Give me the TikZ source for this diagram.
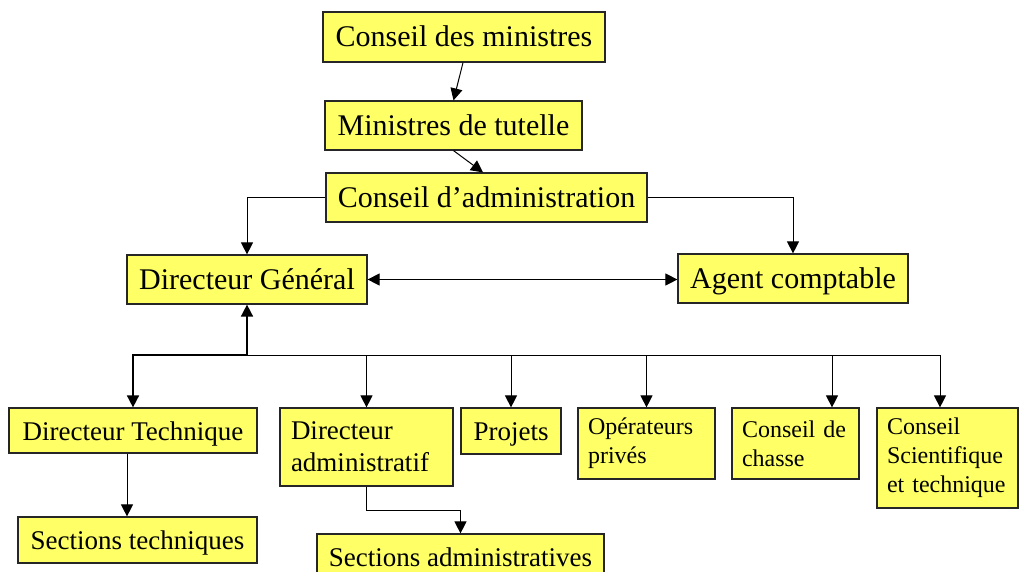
\documentclass[tikz,border=0pt]{standalone}
\usepackage{fontspec}
\setmainfont{Liberation Serif}
\usetikzlibrary{arrows.meta,calc}
\definecolor{boxyellow}{RGB}{255,255,102}
\begin{document}
\begin{tikzpicture}[x=1pt,y=-1pt,
  box/.style={draw=black!85, line width=1.2pt, fill=boxyellow, inner sep=0pt, anchor=center},
  big/.style={box, text height=24.6pt, text depth=4.8pt, font=\fontsize{30}{36}\selectfont},
  mid/.style={box, text height=23pt, text depth=3.5pt, font=\fontsize{27}{32}\selectfont},
  midl/.style={box, align=left, inner xsep=11pt, font=\fontsize{27}{32}\selectfont},
  sml/.style={box, align=left, inner xsep=10pt, font=\fontsize{24}{29}\selectfont},
  conn/.style={line width=1pt, draw=black},
  arr/.style={conn, -{Triangle[length=12pt,width=12pt]}},
  dbl/.style={conn, {Triangle[length=12pt,width=12pt]}-{Triangle[length=12pt,width=12pt]}}
]
\useasboundingbox (0,0) rectangle (1019,571);
% top levels
\node[big, minimum width=282pt, minimum height=50pt] (cm) at (464,37) {Conseil des ministres};
\node[big, minimum width=257pt, minimum height=49pt] (mt) at (453.5,125.5) {Ministres de tutelle};
\node[big, minimum width=321pt, minimum height=49pt] (ca) at (486.5,197.5) {Conseil d’administration};
\node[big, minimum width=240pt, minimum height=49pt] (dg) at (247,279.5) {Directeur Général};
\node[big, minimum width=230pt, minimum height=49pt] (ac) at (793,278.5) {Agent comptable};
% lower level
\node[mid, minimum width=248pt, minimum height=45pt] (dt) at (133,430.5) {Directeur Technique};
\node[mid, minimum width=239pt, minimum height=46pt] (st) at (137.5,540) {Sections techniques};
\node[midl, text width=151pt, minimum width=173pt, minimum height=78pt] (da) at (366.5,447) {Directeur\\administratif};
\node[mid, minimum width=287pt, minimum height=46pt] (sa) at (460.5,557) {Sections administratives};
\node[mid, minimum width=100pt, minimum height=46pt] (pr) at (511,431) {Projets};
\node[sml, text width=117pt, minimum width=137pt, minimum height=71pt] (op) at (646.5,443.5) {Opérateurs\\privés};
\node[sml, text width=107pt, minimum width=127pt, minimum height=71pt] (cc) at (795.5,443.5) {Conseil de\\chasse};
\node[sml, text width=121pt, minimum width=141pt, minimum height=100pt] (cs) at (947.5,458) {Conseil\\Scientifique\\et technique};
\coordinate (bus) at (247,355);
% connectors
\draw[arr] ([xshift=-1pt]cm.south) -- (mt.north);
\draw[arr] (mt.south) -- ([xshift=-3.5pt]ca.north);
\draw[arr] (ca.west) -| (dg.north);
\draw[arr] (ca.east) -| (ac.north);
\draw[dbl] (dg.east) -- (dg.east -| ac.west);
\draw[dbl, line width=1.6pt] (dg.south) -- (bus) -| (dt.north);
\draw[arr] (bus) -| (da.north);
\draw[arr] (bus) -| (pr.north);
\draw[arr] (bus) -| (op.north);
\draw[arr] (bus) -| ([xshift=36.5pt]cc.north);
\draw[arr] (bus) -| ([xshift=-7.5pt]cs.north);
\draw[arr] ([xshift=-6pt]dt.south) -- ([xshift=-10.5pt]st.north);
\draw[arr] (da.south) -- ++(0,24) -| (sa.north);
\end{tikzpicture}
\end{document}
